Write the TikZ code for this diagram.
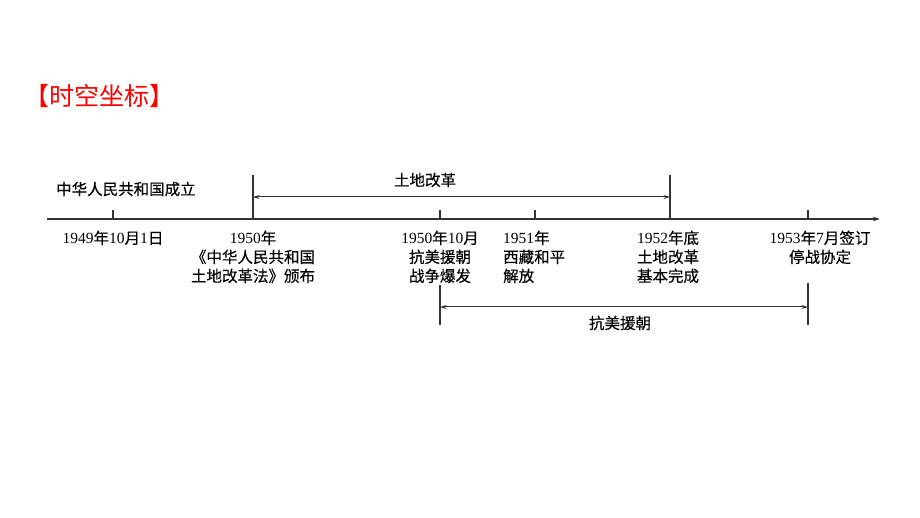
\documentclass[tikz,border=0pt]{standalone}
\usepackage{fontspec}
\setmainfont{Liberation Serif}
\newfontfamily\cjk{Noto Sans CJK SC}
\newfontfamily\cjkl[FakeBold=0.4]{Noto Sans CJK SC}
\newcommand{\C}[1]{{\cjkl #1}}
\usetikzlibrary{arrows.meta}
\definecolor{linegray}{HTML}{333333}
\definecolor{titlered}{HTML}{FF0000}
\tikzset{
  axisline/.style={draw=linegray, line width=1.1pt},
  span/.style={draw=linegray, line width=1pt, {Stealth[length=6.5pt,width=4pt]}-{Stealth[length=6.5pt,width=4pt]}},
  lbl/.style={inner sep=0pt, font=\fontsize{15.5}{19}\selectfont, text=black},
  title/.style={inner sep=0pt, font=\cjk\fontsize{25}{30}\selectfont, text=titlered}
}
\begin{document}
\begin{tikzpicture}[x=1pt,y=-1pt]
\useasboundingbox[fill=white] (0,0) rectangle (920,518);
\node[title] (ttl) at (99.5,96) {【时空坐标】};
% axis
\coordinate (a0) at (47,219);
\coordinate (a1) at (880,219);
\draw[axisline,-{Stealth[length=7pt,width=4.5pt]}] (a0) -- (a1);
% ticks
\coordinate (t1) at (113,219); \coordinate (t1u) at (113,210);
\coordinate (t2) at (253,219); \coordinate (t2u) at (253,175);
\coordinate (t3) at (440,219); \coordinate (t3u) at (440,210);
\coordinate (t4) at (535,219); \coordinate (t4u) at (535,210);
\coordinate (t5) at (670,219); \coordinate (t5u) at (670,175);
\coordinate (t6) at (808,219); \coordinate (t6u) at (808,210);
\draw[axisline] (t1) -- (t1u) (t2) -- (t2u) (t3) -- (t3u) (t4) -- (t4u) (t5) -- (t5u) (t6) -- (t6u);
% top span
\coordinate (s1a) at (253,197); \coordinate (s1b) at (670,197);
\draw[span] (s1a) -- (s1b);
\node[lbl] (tdgg) at (425,180) {\C{土地改革}};
\node[lbl,anchor=west] (zhrm) at (56,189) {\C{中华人民共和国成立}};
% bottom span
\coordinate (v1a) at (440,285); \coordinate (v1b) at (440,325);
\coordinate (v2a) at (808,283); \coordinate (v2b) at (808,325);
\draw[axisline] (v1a) -- (v1b) (v2a) -- (v2b);
\coordinate (s2a) at (440,307); \coordinate (s2b) at (808,307);
\draw[span] (s2a) -- (s2b);
\node[lbl] (kmyc) at (620,323) {\C{抗美援朝}};
% labels
\node[lbl,anchor=north] (l1) at (113,230.5) {1949\C{年}10\C{月}1\C{日}};
\node[lbl,anchor=north,align=center] (l2) at (253,230.5) {1950\C{年}\\\C{《中华人民共和国}\\\C{土地改革法》颁布}};
\node[lbl,anchor=north,align=center] (l3) at (440,230.5) {1950\C{年}10\C{月}\\\C{抗美援朝}\\\C{战争爆发}};
\node[lbl,anchor=north west,align=left] (l4) at (503,230.5) {1951\C{年}\\\C{西藏和平}\\\C{解放}};
\node[lbl,anchor=north,align=center] (l5) at (668,230.5) {1952\C{年底}\\\C{土地改革}\\\C{基本完成}};
\node[lbl,anchor=north,align=center] (l6) at (820,230.5) {1953\C{年}7\C{月签订}\\\C{停战协定}};
\end{tikzpicture}
\end{document}
